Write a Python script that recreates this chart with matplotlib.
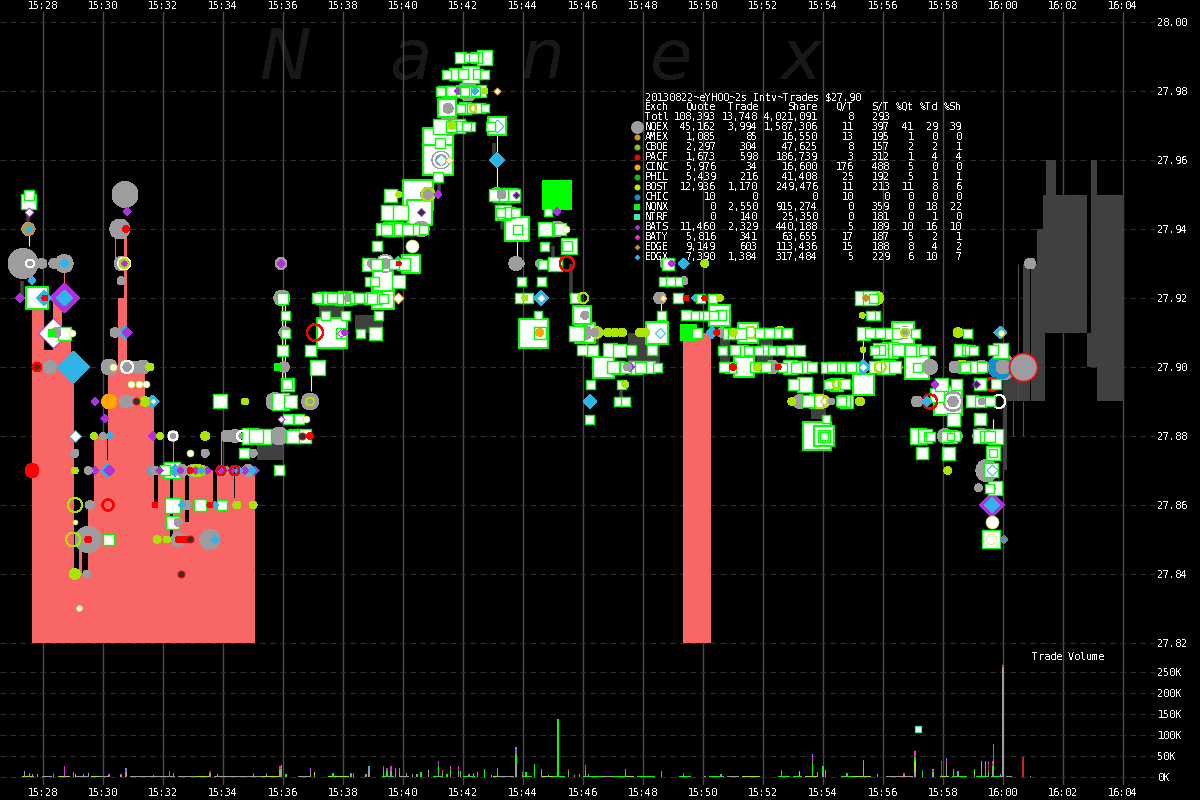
"""
Nanex style trade and quote chart for YHOO, 2013-08-22
"""
import matplotlib
matplotlib.use("Agg")
import matplotlib.pyplot as plt

plt.rcParams["font.family"] = "DejaVu Sans Mono"
plt.rcParams["font.size"] = 7.2
plt.rcParams["text.antialiased"] = False
plt.rcParams["text.hinting"] = "force_autohint"
plt.rcParams["text.hinting_factor"] = 1

#table
title_line = "20130822~eYHOO~2s Intv~Trades $27.90"
exch_names = ["Totl", "NQEX", "AMEX", "CBOE", "PACF", "CINC", "PHIL", "BOST",
              "CHIC", "NQNX", "NTRF", "BATS", "BATY", "EDGE", "EDGX"]
quote_counts = [108393, 45162, 1085, 2297, 1673, 5976, 5439, 12936, 10, 0, 0, 11460, 5816, 9149, 7390]
trade_counts = [13748, 3994, 85, 304, 598, 34, 216, 1170, 0, 2550, 140, 2329, 341, 603, 1384]
share_counts = [4021091, 1587306, 16550, 47625, 186739, 16600, 41408, 249476, 0, 915274, 25350, 440188, 63655, 113436, 317484]
q_per_t = [8, 11, 13, 8, 3, 176, 25, 11, 10, 0, 0, 5, 17, 15, 5]
s_per_t = [293, 397, 195, 157, 312, 488, 192, 213, 0, 359, 181, 189, 187, 188, 229]
pct_quote = ["", 41, 1, 2, 1, 5, 5, 11, 0, 0, 0, 10, 5, 8, 6]
pct_trade = ["", 29, 0, 2, 4, 0, 1, 8, 0, 18, 1, 16, 2, 4, 10]
pct_share = ["", 39, 0, 1, 4, 0, 1, 6, 0, 22, 0, 10, 1, 2, 7]

#axis ticks, times are minutes after 15:00
time_ticks = list(range(28, 66, 2))
time_labels = ["15:28", "15:30", "15:32", "15:34", "15:36", "15:38", "15:40", "15:42", "15:44", "15:46",
               "15:48", "15:50", "15:52", "15:54", "15:56", "15:58", "16:00", "16:02", "16:04"]
price_ticks = [27.82, 27.84, 27.86, 27.88, 27.90, 27.92, 27.94, 27.96, 27.98, 28.00]
volume_ticks = [0, 50, 100, 150, 200, 250]
volume_labels = ["0K", "50K", "100K", "150K", "200K", "250K"]

#pink columns
pink_left = [27.65, 28.05, 28.35, 28.65, 28.95, 29.05, 29.12, 29.20, 29.33, 29.52, 29.72, 30.15, 30.18, 30.52, 30.72, 30.82, 31.42,
             31.72, 31.85, 32.25, 32.35, 32.75, 32.88, 33.68, 33.82, 34.00, 34.03, 34.38, 34.42, 49.35]
pink_right = [28.05, 28.35, 28.65, 28.95, 29.05, 29.12, 29.20, 29.33, 29.52, 29.72, 30.15, 30.18, 30.52, 30.72, 30.82, 31.42, 31.72,
              31.85, 32.25, 32.35, 32.75, 32.88, 33.68, 33.82, 34.00, 34.03, 34.38, 34.42, 35.08, 50.28]
pink_top = [27.92, 27.905, 27.92, 27.91, 27.90, 27.84, 27.84, 27.85, 27.84, 27.86, 27.88, 27.873, 27.90, 27.92, 27.94, 27.90, 27.89,
            27.86, 27.87, 27.85, 27.87, 27.855, 27.87, 27.86, 27.87, 27.862, 27.87, 27.862, 27.87, 27.91]

#dark quote blocks
block_left = [60.00, 60.69, 60.95, 61.14, 61.34, 61.42, 61.45, 62.81, 62.95, 63.15, 60.00, 35.15, 37.20, 38.42, 47.52, 51.82, 50.58, 53.60]
block_right = [60.69, 60.91, 61.14, 61.42, 61.42, 62.81, 61.78, 63.15, 63.15, 64.05, 60.15, 36.00, 38.00, 39.35, 48.58, 52.35, 50.92, 54.10]
block_low = [27.89, 27.89, 27.89, 27.89, 27.94, 27.91, 27.95, 27.90, 27.91, 27.89, 27.87, 27.873, 27.905, 27.91, 27.90, 27.90, 27.90, 27.885]
block_high = [27.90, 27.93, 27.93, 27.94, 27.95, 27.95, 27.96, 27.91, 27.96, 27.95, 27.89, 27.88, 27.92, 27.915, 27.91, 27.91, 27.91, 27.89]

#spread sticks
stick_time = [27.32, 27.52, 45.62, 45.02, 43.05, 43.30, 41.20, 46.48, 47.28]
stick_low = [27.92, 27.94, 27.92, 27.93, 27.96, 27.94, 27.95, 27.90, 27.89]
stick_high = [27.925, 27.945, 27.93, 27.935, 27.965, 27.945, 27.955, 27.91, 27.895]
yellow_time = [27.55, 35.98, 36.08, 36.95, 43.15, 43.15, 43.82, 48.62, 55.35, 59.68]
yellow_low = [27.935, 27.895, 27.895, 27.893, 27.96, 27.95, 27.93, 27.915, 27.90, 27.88]
yellow_high = [27.94, 27.92, 27.92, 27.898, 27.97, 27.96, 27.94, 27.92, 27.91, 27.885]
thin_time = [60.50, 60.36, 60.69]
thin_low = [27.89, 27.88, 27.88]
thin_high = [27.93, 27.89, 27.89]
salmon_time = [30.40, 28.72, 32.35, 33.95]
salmon_low = [27.93, 27.92, 27.87, 27.87]
salmon_high = [27.94, 27.93, 27.88, 27.88]

#NQNX trades, white squares
sq_time = [27.52, 27.55, 27.82, 28.72, 30.18, 33.92, 32.32, 32.08, 32.32, 32.32, 33.25, 33.98, 34.92, 35.12, 35.35, 34.72, 35.88,
           35.98, 36.08, 36.08, 35.98, 36.15, 36.15, 35.92, 36.25, 36.18, 36.32, 36.55, 36.45, 36.72, 36.92, 37.15, 37.65, 37.95,
           37.15, 37.42, 37.65, 38.08, 38.65, 38.08, 38.58, 38.88, 39.35, 39.35, 39.08, 39.18, 38.88, 39.35, 38.85, 40.28, 39.85,
           39.58, 39.75, 40.02, 40.38, 40.55, 40.68, 39.52, 39.92, 39.58, 40.52, 41.18, 41.18, 41.18, 41.25, 41.25, 41.85, 42.25,
           41.25, 41.48, 42.08, 42.32, 42.58, 41.48, 41.75, 42.58, 41.75, 42.25, 42.52, 42.72, 41.92, 42.18, 42.35, 42.45, 42.72,
           43.15, 42.92, 43.08, 43.42, 43.58, 43.38, 43.25, 43.75, 43.82, 43.82, 43.95, 44.62, 44.65, 43.92, 44.18, 44.35, 44.58, 44.52,
           44.75, 45.25, 44.85, 44.72, 45.48, 45.08, 45.55, 45.98, 45.75, 45.78, 46.08, 48.48, 45.98, 46.68, 47.15, 47.42, 47.75, 48.48,
           46.25, 46.22, 47.28, 47.18, 47.42, 48.85, 49.15, 48.68, 48.92, 49.18, 49.92, 50.32, 50.55, 50.62, 48.62, 49.45, 49.75, 50.02, 50.15, 49.82, 50.35,
           50.85, 51.52, 52.02, 52.45, 52.82, 50.65, 51.08, 51.52, 51.85, 52.32, 52.58, 52.95, 50.72, 51.38, 52.65, 52.92, 53.38, 53.65, 53.02, 53.38,
           53.52, 53.78, 54.12, 53.82, 54.05, 54.05, 54.05,
           55.32, 55.58, 55.68, 55.75, 55.58, 55.35, 55.92, 55.58, 55.92, 55.92, 56.68, 57.08, 57.08, 57.58, 56.25, 56.18, 56.02, 55.75, 57.15, 57.15,
           55.35, 54.72, 54.12, 54.42, 54.75, 55.02, 54.18, 54.45, 54.75, 54.78,
           58.58, 58.82, 58.82, 58.98, 58.75, 57.95, 58.45, 58.18, 57.80, 58.98, 59.25, 59.25, 59.58, 59.78, 59.92, 59.68,
           57.18, 57.52, 57.42, 57.58, 57.32, 58.25, 58.25, 58.35, 58.18, 59.25, 59.25, 59.75, 59.68, 59.68, 59.62]
sq_price = [27.948, 27.95, 27.92, 27.91, 27.85, 27.89, 27.87, 27.87, 27.86, 27.855, 27.86, 27.86, 27.88, 27.88, 27.88, 27.875, 27.87,
            27.92, 27.915, 27.91, 27.905, 27.895, 27.895, 27.89, 27.89, 27.885, 27.88, 27.885, 27.88, 27.88, 27.905, 27.90, 27.91, 27.91,
            27.92, 27.92, 27.92, 27.92, 27.92, 27.915, 27.91, 27.92, 27.92, 27.92, 27.91, 27.915, 27.925, 27.925, 27.93, 27.93, 27.925,
            27.94, 27.94, 27.94, 27.94, 27.945, 27.94, 27.945, 27.945, 27.95, 27.95, 27.955, 27.965, 27.96, 27.965, 27.97, 27.97, 27.97,
            27.98, 27.975, 27.975, 27.975, 27.975, 27.98, 27.98, 27.98, 27.985, 27.985, 27.985, 27.985, 27.99, 27.99, 27.99, 27.99, 27.99,
            27.97, 27.97, 27.95, 27.95, 27.95, 27.945, 27.945, 27.945, 27.94, 27.94, 27.925, 27.925, 27.93, 27.92, 27.92, 27.91, 27.91, 27.915,
            27.94, 27.94, 27.945, 27.935, 27.935, 27.93, 27.935, 27.915, 27.92, 27.91, 27.91, 27.91, 27.905, 27.90, 27.90, 27.90, 27.90, 27.90,
            27.895, 27.885, 27.895, 27.89, 27.89, 27.93, 27.925, 27.925, 27.925, 27.92, 27.92, 27.92, 27.915, 27.915, 27.915, 27.915, 27.915, 27.915, 27.915, 27.91, 27.915,
            27.91, 27.91, 27.91, 27.91, 27.91, 27.905, 27.905, 27.905, 27.905, 27.905, 27.905, 27.905, 27.90, 27.90, 27.90, 27.90, 27.90, 27.90, 27.895, 27.895,
            27.89, 27.89, 27.885, 27.88, 27.88, 27.88, 27.88,
            27.92, 27.92, 27.92, 27.915, 27.915, 27.91, 27.91, 27.91, 27.905, 27.905, 27.91, 27.91, 27.905, 27.905, 27.905, 27.90, 27.90, 27.90, 27.90, 27.90,
            27.895, 27.89, 27.90, 27.90, 27.90, 27.90, 27.895, 27.895, 27.895, 27.89,
            27.905, 27.905, 27.91, 27.90, 27.90, 27.895, 27.895, 27.89, 27.892, 27.89, 27.89, 27.895, 27.89, 27.895, 27.905, 27.905,
            27.88, 27.88, 27.88, 27.88, 27.875, 27.88, 27.88, 27.885, 27.875, 27.885, 27.88, 27.88, 27.875, 27.875, 27.85]
sq_size = [13, 8, 22, 11, 9, 12, 14, 8, 13, 11, 10, 8, 14, 12, 13, 8, 8,
           9, 7, 7, 9, 11, 8, 15, 11, 8, 11, 8, 12, 12, 9, 13, 30, 8,
           8, 10, 8, 12, 8, 7, 7, 9, 22, 7, 11, 7, 7, 20, 11, 18, 11,
           12, 12, 10, 9, 25, 7, 13, 13, 11, 30, 8, 30, 30, 8, 13, 12, 7,
           7, 18, 10, 8, 8, 9, 9, 10, 10, 15, 8, 7, 9, 7, 7, 9, 13,
           18, 7, 10, 10, 12, 12, 7, 7, 24, 7, 7, 7, 7, 8, 8, 29, 10, 6,
           12, 10, 6, 7, 8, 12, 14, 18, 8, 13, 20, 22, 8, 21, 11, 9, 11, 7,
           7, 7, 7, 7, 7, 10, 7, 7, 7, 8, 7, 7, 21, 8, 7, 8, 7, 7, 7, 8, 7,
           9, 20, 8, 8, 8, 7, 8, 7, 7, 7, 7, 9, 8, 20, 7, 12, 10, 8, 9, 13,
           10, 12, 6, 28, 20, 10, 6,
           12, 12, 7, 7, 7, 11, 8, 8, 8, 13, 23, 7, 10, 7, 14, 12, 11, 10, 24, 7,
           21, 10, 9, 8, 9, 9, 7, 11, 8, 11,
           10, 8, 7, 10, 8, 11, 9, 28, 12, 10, 9, 10, 8, 8, 13, 8,
           14, 7, 12, 7, 10, 11, 5, 11, 11, 10, 12, 13, 12, 6, 16]

#more NQNX trades in the dense clusters
more_sq_time = [41.35, 41.62, 41.95, 42.05, 42.30, 42.42, 41.90, 42.75, 41.60, 41.95, 42.10, 41.45, 42.00,
                37.30, 37.55, 37.80, 37.95, 38.25, 38.40, 38.55, 38.95, 39.10, 37.40,
                39.15, 39.30, 39.45, 39.90, 40.15, 39.05, 39.70, 40.05, 39.10,
                43.25, 43.70, 43.30, 43.55, 43.65,
                46.30, 46.90, 47.00, 47.90, 48.20, 47.20, 47.60, 48.30,
                51.00, 51.25, 51.90, 52.20, 50.90, 51.75, 52.10, 53.10, 53.20, 52.10, 51.30,
                54.30, 54.55, 54.95, 54.30, 54.60,
                56.40, 56.10, 56.50, 56.90, 56.40, 57.35, 55.70,
                58.70, 58.90, 59.30, 59.00, 59.40, 59.55, 59.60, 59.75, 59.55, 58.10, 58.40]
more_sq_price = [27.98, 27.98, 27.98, 27.98, 27.98, 27.98, 27.975, 27.975, 27.97, 27.97, 27.97, 27.985, 27.985,
                 27.92, 27.92, 27.92, 27.92, 27.92, 27.92, 27.92, 27.92, 27.92, 27.915,
                 27.935, 27.94, 27.94, 27.94, 27.94, 27.925, 27.93, 27.93, 27.93,
                 27.95, 27.95, 27.945, 27.945, 27.95,
                 27.905, 27.905, 27.90, 27.90, 27.90, 27.905, 27.905, 27.905,
                 27.91, 27.91, 27.91, 27.91, 27.90, 27.90, 27.90, 27.90, 27.905, 27.905, 27.905,
                 27.90, 27.90, 27.90, 27.895, 27.89,
                 27.91, 27.91, 27.905, 27.905, 27.90, 27.905, 27.905,
                 27.90, 27.905, 27.90, 27.905, 27.88, 27.88, 27.87, 27.865, 27.865, 27.88, 27.88]
more_sq_size = [8, 8, 9, 7, 9, 7, 7, 6, 9, 8, 7, 7, 8,
                10, 10, 9, 11, 9, 8, 8, 9, 10, 7,
                8, 10, 9, 10, 9, 7, 8, 10, 9,
                12, 10, 13, 9, 11,
                9, 12, 10, 9, 10, 11, 8, 8,
                9, 9, 8, 8, 9, 8, 8, 9, 9, 8, 9,
                8, 9, 8, 9, 8,
                9, 9, 10, 9, 10, 7, 7,
                9, 8, 8, 7, 9, 9, 12, 12, 7, 9, 8]

#solid NQNX squares
solid_time = [45.15, 49.52, 35.85, 28.32]
solid_price = [27.95, 27.91, 27.90, 27.91]
solid_size = [30, 17, 8, 8]

#NQEX quotes, gray circles
gray_time = [27.52, 27.35, 27.98, 28.38, 28.72, 28.45, 28.25, 30.22, 30.82, 31.35, 30.75, 31.08, 30.75, 30.95, 30.75, 30.58, 30.62, 30.62, 30.42,
             30.02, 32.35, 34.15, 34.42, 35.88, 29.08, 29.52, 31.98, 33.42, 35.02, 29.58, 32.78, 32.52, 29.52, 32.52, 33.58, 29.48,
             35.95, 35.98, 36.08, 36.05, 35.75, 36.92, 39.42, 39.68, 40.62, 40.85, 41.28, 41.55, 42.18, 41.52, 43.15, 43.78, 43.92, 44.58,
             45.15, 46.08, 46.08, 48.75, 49.38, 48.58, 50.65, 52.32, 53.25, 56.75, 57.58, 58.42, 57.15, 58.35, 58.08, 59.28, 59.48, 60.00, 60.92, 60.02,
             38.20, 38.90, 39.00, 41.90, 42.00, 42.45, 46.40, 47.50, 54.30, 43.30, 58.50, 56.50, 59.20, 59.30, 59.30, 58.85,
             31.75, 32.05, 32.65, 33.00, 33.15, 33.35, 34.85, 34.10]
gray_price = [27.94, 27.93, 27.93, 27.93, 27.93, 27.91, 27.90, 27.90, 27.90, 27.90, 27.90, 27.90, 27.89, 27.89, 27.95, 27.94, 27.93, 27.925, 27.91,
              27.88, 27.88, 27.88, 27.88, 27.88, 27.875, 27.87, 27.87, 27.875, 27.875, 27.86, 27.86, 27.855, 27.85, 27.85, 27.85, 27.84,
              27.93, 27.92, 27.91, 27.90, 27.89, 27.89, 27.93, 27.94, 27.94, 27.95, 27.96, 27.97, 27.98, 27.975, 27.95, 27.93, 27.93, 27.93,
              27.94, 27.915, 27.91, 27.93, 27.925, 27.92, 27.91, 27.90, 27.89, 27.91, 27.90, 27.90, 27.89, 27.89, 27.88, 27.88, 27.87, 27.90, 27.93, 27.90,
              27.92, 27.92, 27.93, 27.98, 27.98, 27.98, 27.91, 27.90, 27.89, 27.95, 27.88, 27.905, 27.865, 27.89, 27.90, 27.90,
              27.87, 27.87, 27.87, 27.87, 27.87, 27.87, 27.87, 27.87]
gray_size = [13, 30, 10, 10, 18, 10, 13, 16, 14, 14, 12, 12, 12, 10, 26, 20, 14, 8, 10,
             7, 11, 12, 13, 18, 8, 8, 8, 8, 8, 9, 10, 8, 26, 14, 20, 8,
             12, 16, 12, 11, 18, 17, 18, 14, 16, 15, 18, 20, 20, 10, 14, 14, 8, 9,
             16, 8, 14, 10, 8, 12, 10, 14, 14, 12, 15, 12, 11, 20, 15, 16, 22, 26, 11, 14,
             8, 12, 10, 12, 8, 10, 8, 8, 7, 9, 10, 10, 8, 7, 14, 12,
             9, 8, 12, 12, 12, 10, 12, 8]

#hollow rings
lime_ring_time = [29.08, 29.02, 30.72, 40.85, 42.35, 46.02, 51.58, 52.58, 53.92, 55.92, 54.48, 56.75, 36.92, 33.10, 33.20]
lime_ring_price = [27.86, 27.85, 27.93, 27.95, 27.975, 27.92, 27.91, 27.91, 27.89, 27.90, 27.895, 27.91, 27.89, 27.87, 27.87]
lime_ring_size = [14, 14, 9, 13, 7, 10, 12, 11, 14, 11, 8, 8, 8, 11, 11]
white_ring_time = [30.82, 30.72, 39.42, 32.35, 59.88, 58.35, 41.28, 27.58, 34.65, 56.75]
white_ring_price = [27.90, 27.93, 27.93, 27.88, 27.89, 27.89, 27.96, 27.93, 27.88, 27.91]
white_ring_size = [12, 12, 14, 9, 13, 14, 14, 8, 10, 10]
red_ring_time = [30.18, 37.08, 45.48, 57.58, 59.65, 27.82, 33.95, 34.40]
red_ring_price = [27.86, 27.91, 27.93, 27.89, 27.895, 27.90, 27.87, 27.87]
red_ring_size = [11, 16, 14, 14, 13, 8, 9, 9]

#filled circles of the smaller exchanges
lime_time = [31.58, 31.42, 34.75, 29.72, 31.92, 33.42, 29.08, 34.48, 35.02, 31.82, 29.08, 39.88, 40.72, 41.65, 42.75, 44.08,
             46.48, 46.85, 47.08, 47.32, 48.08, 47.42, 55.82, 55.32, 55.35, 55.25, 58.65, 58.52, 58.18, 51.82, 51.02, 50.08, 50.58, 52.98, 47.92, 32.15]
lime_price = [27.90, 27.89, 27.89, 27.88, 27.88, 27.88, 27.87, 27.86, 27.86, 27.85, 27.84, 27.95, 27.94, 27.97, 27.98, 27.92,
              27.91, 27.91, 27.91, 27.91, 27.91, 27.895, 27.92, 27.915, 27.905, 27.89, 27.90, 27.91, 27.87, 27.90, 27.91, 27.93, 27.92, 27.89, 27.91, 27.85]
lime_size = [8, 10, 7, 7, 7, 9, 7, 8, 8, 8, 11, 6, 8, 8, 6, 6,
             12, 9, 9, 9, 9, 7, 13, 6, 6, 9, 14, 10, 8, 8, 8, 8, 7, 8, 9, 7]
orange_time = [30.22, 44.58]
orange_price = [27.89, 27.91]
orange_size = [15, 8]
red_time = [27.65, 28.08, 30.78, 29.52, 31.75, 33.58, 32.92, 36.92, 39.88, 50.08, 49.45, 51.02, 50.48, 52.52, 32.55, 32.75]
red_price = [27.87, 27.92, 27.94, 27.85, 27.86, 27.86, 27.87, 27.88, 27.93, 27.92, 27.92, 27.90, 27.91, 27.90, 27.85, 27.85]
red_size = [14, 6, 7, 7, 6, 6, 6, 7, 5, 6, 6, 7, 6, 6, 7, 7]
dark_time = [27.82, 31.12, 32.62, 32.92, 36.65]
dark_price = [27.90, 27.89, 27.84, 27.85, 27.88]
dark_size = [7, 7, 7, 7, 7]
white_time = [28.98, 30.35, 30.95, 31.22, 31.45, 29.22, 29.08, 32.92, 36.78, 40.32, 45.45, 59.65, 59.62, 59.95]
white_price = [27.91, 27.90, 27.895, 27.895, 27.895, 27.83, 27.855, 27.875, 27.885, 27.935, 27.94, 27.855, 27.85, 27.91]
white_size = [7, 7, 7, 7, 7, 6, 5, 7, 7, 13, 7, 13, 10, 6]

#diamonds
purple_time = [27.25, 28.72, 29.75, 30.08, 30.82, 30.78, 30.82, 29.75, 30.22, 31.68, 35.08, 35.95, 38.08, 41.18, 45.15, 57.75, 59.65, 41.85, 48.98, 47.58,
               31.90, 32.60, 33.10, 33.50, 34.00, 34.30, 34.75]
purple_price = [27.92, 27.92, 27.89, 27.885, 27.945, 27.93, 27.91, 27.87, 27.87, 27.88, 27.87, 27.93, 27.91, 27.95, 27.945, 27.895, 27.86, 27.98, 27.93, 27.90,
                27.87, 27.87, 27.87, 27.87, 27.87, 27.87, 27.87]
purple_size = [9, 30, 8, 8, 8, 8, 10, 9, 11, 9, 9, 8, 7, 8, 8, 8, 26, 8, 7, 9,
               8, 7, 8, 8, 8, 8, 9]
blue_time = [28.05, 28.72, 27.65, 28.72, 29.02, 30.22, 30.75, 31.68, 30.18, 31.68, 32.42, 39.85, 43.15, 44.62, 46.25, 49.38, 55.35, 59.92, 59.65,
             50.32, 49.75, 33.75, 33.75, 57.48, 32.65, 42.42, 27.55, 33.30, 34.55, 35.00]
blue_price = [27.92, 27.92, 27.925, 27.93, 27.90, 27.88, 27.91, 27.89, 27.87, 27.87, 27.87, 27.93, 27.96, 27.92, 27.89, 27.93, 27.90, 27.91, 27.86,
              27.91, 27.92, 27.86, 27.85, 27.89, 27.86, 27.98, 27.94, 27.87, 27.87, 27.87]
blue_size = [16, 16, 8, 9, 32, 8, 14, 13, 13, 11, 12, 15, 15, 15, 14, 11, 15, 13, 16,
             12, 8, 8, 8, 10, 8, 7, 8, 8, 8, 8]
white_purple_time = [27.55, 27.55, 28.35, 38.08, 35.95, 37.95]
white_purple_price = [27.95, 27.945, 27.91, 27.915, 27.885, 27.91]
white_purple_size = [9, 9, 30, 8, 7, 8]
white_blue_time = [29.08, 43.15, 44.62, 55.35, 31.68, 48.58, 41.28, 59.65]
white_blue_price = [27.88, 27.97, 27.92, 27.90, 27.89, 27.91, 27.96, 27.87]
white_blue_size = [12, 13, 9, 9, 7, 10, 12, 11]
white_orange_time = [39.85, 41.55, 46.12, 54.12, 56.48, 43.15, 48.68]
white_orange_price = [27.92, 27.96, 27.905, 27.89, 27.90, 27.98, 27.92]
white_orange_size = [11, 8, 12, 12, 11, 7, 7]
dark_dia_time = [40.62, 43.78, 54.12, 59.12, 59.62]
dark_dia_price = [27.945, 27.95, 27.885, 27.895, 27.865]
dark_dia_size = [8, 7, 8, 8, 8]
brown_dia_time = [27.55, 55.45]
brown_dia_price = [27.94, 27.92]
brown_dia_size = [13, 7]
slate_dia_time = [60.05]
slate_dia_price = [27.85]
slate_dia_size = [8]

#stacked trade volume, in thousands of shares
vol_time = [27.40, 27.57, 27.67, 27.83, 28.01, 28.37, 28.73, 29.03, 29.10, 29.36,
            29.53, 30.21, 30.61, 30.79, 31.70, 32.23, 32.36, 33.59, 33.83, 35.04,
            35.46, 35.91, 35.96, 36.11, 36.93, 37.07, 37.69, 38.29, 38.37, 38.79,
            38.89, 39.36, 39.48, 39.62, 39.76, 39.90, 40.13, 40.33, 40.49, 40.61,
            40.87, 41.20, 41.33, 41.48, 41.60, 41.87, 41.93, 42.21, 42.36, 42.50,
            42.73, 42.97, 43.17, 43.79, 44.00, 44.12, 44.40, 44.63, 44.86, 45.16,
            45.19, 45.53, 45.74, 45.90, 46.10, 46.20, 47.43, 48.63, 49.36, 50.09,
            50.61, 52.63, 53.23, 53.66, 53.83, 54.02, 54.10, 54.82, 55.36, 55.83,
            56.71, 57.09, 57.34, 57.68, 57.97, 58.13, 58.37, 58.51, 59.06, 59.30,
            59.43, 59.53, 59.66, 59.70, 59.93, 60.02, 60.69, 60.93]
vol_gray = [15, 6, 7, 5, 3, 5, 5, 6, 2, 6,
            6, 4, 4, 12, 3, 0, 0, 10, 6, 4,
            6, 12, 14, 5, 13, 4, 0, 6, 5, 7,
            17, 15, 5, 14, 5, 14, 10, 7, 7, 0,
            12, 10, 10, 0, 8, 10, 8, 5, 6, 0,
            0, 5, 17, 32, 4, 0, 0, 12, 5, 14,
            0, 8, 5, 7, 10, 7, 0, 5, 4, 3,
            3, 6, 2, 5, 0, 10, 4, 5, 31, 4,
            4, 13, 3, 6, 0, 34, 0, 6, 4, 37,
            5, 10, 20, 27, 5, 263, 0, 2]
vol_lime = [0, 0, 0, 0, 0, 0, 0, 0, 6, 0,
            4, 0, 0, 0, 0, 0, 0, 0, 0, 0,
            0, 0, 0, 0, 0, 8, 0, 0, 0, 0,
            0, 0, 0, 0, 0, 0, 0, 0, 0, 0,
            5, 0, 0, 0, 0, 0, 0, 0, 0, 0,
            0, 0, 0, 0, 0, 0, 0, 0, 0, 0,
            0, 0, 0, 0, 0, 0, 0, 0, 0, 0,
            0, 0, 9, 0, 0, 0, 0, 0, 0, 3,
            0, 25, 0, 0, 0, 0, 0, 0, 8, 0,
            0, 0, 0, 0, 0, 0, 0, 0]
vol_green = [0, 0, 0, 0, 0, 0, 0, 0, 0, 0,
             0, 0, 0, 0, 0, 0, 10, 0, 0, 3,
             2, 8, 5, 2, 0, 0, 10, 2, 0, 0,
             0, 3, 12, 0, 11, 0, 0, 0, 0, 12,
             0, 16, 0, 6, 10, 5, 7, 0, 0, 13,
             19, 0, 0, 22, 0, 12, 32, 0, 0, 0,
             138, 6, 0, 0, 5, 0, 18, 0, 0, 0,
             0, 6, 3, 30, 13, 12, 5, 0, 0, 0,
             0, 10, 8, 6, 5, 0, 20, 0, 8, 0,
             32, 5, 5, 16, 0, 0, 0, 0]
vol_red = [0, 0, 0, 0, 0, 1, 0, 0, 0, 0,
           0, 1, 0, 0, 0, 0, 0, 5, 0, 0,
           0, 1, 0, 0, 0, 0, 0, 0, 0, 0,
           0, 1, 1, 0, 0, 0, 0, 0, 0, 0,
           0, 2, 3, 2, 3, 0, 0, 0, 0, 0,
           0, 0, 0, 0, 2, 0, 0, 0, 0, 0,
           0, 2, 0, 0, 0, 0, 0, 0, 0, 0,
           0, 0, 0, 0, 0, 0, 0, 0, 0, 0,
           0, 3, 3, 0, 30, 0, 0, 0, 0, 0,
           0, 14, 5, 4, 0, 2, 48, 0]
vol_purple = [0, 4, 0, 0, 0, 4, 20, 0, 0, 0,
              0, 2, 2, 5, 0, 15, 0, 0, 0, 3,
              2, 4, 4, 0, 9, 0, 0, 2, 5, 0,
              0, 6, 3, 11, 5, 2, 0, 0, 0, 0,
              0, 11, 3, 0, 4, 10, 0, 2, 4, 0,
              0, 0, 0, 12, 3, 0, 0, 0, 0, 0,
              0, 2, 0, 0, 10, 0, 0, 0, 6, 0,
              0, 5, 0, 14, 0, 0, 0, 0, 0, 0,
              6, 8, 0, 4, 4, 7, 0, 0, 0, 0,
              0, 10, 9, 22, 0, 0, 0, 0]
vol_blue = [0, 0, 0, 3, 0, 0, 0, 7, 0, 0,
            0, 0, 2, 5, 2, 0, 0, 0, 0, 0,
            0, 0, 6, 0, 0, 0, 0, 0, 0, 0,
            8, 0, 0, 0, 0, 6, 0, 0, 0, 0,
            0, 0, 0, 0, 0, 0, 0, 0, 0, 0,
            0, 0, 4, 6, 4, 0, 0, 8, 0, 8,
            0, 2, 0, 0, 4, 0, 2, 10, 0, 0,
            4, 0, 1, 6, 0, 3, 8, 5, 10, 0,
            0, 4, 3, 4, 0, 5, 0, 9, 0, 0,
            0, 0, 0, 10, 3, 2, 0, 0]
floor_gray_left = [28.00, 29.10, 29.90, 30.90, 32.50, 33.70, 36.50, 39.90, 43.20, 46.60, 50.80, 56.10, 60.10]
floor_gray_right = [28.30, 29.50, 30.20, 32.40, 33.60, 35.40, 36.90, 40.20, 43.70, 47.10, 51.20, 57.00, 60.30]
floor_lime_left = [27.30, 28.50, 29.60, 33.10, 35.30, 37.50, 43.00, 44.60, 47.40, 51.30, 53.40, 55.00, 57.90]
floor_lime_right = [27.70, 28.90, 29.90, 33.60, 35.90, 38.20, 43.20, 45.00, 47.70, 51.90, 53.80, 55.60, 58.20]
floor_green_left = [39.30, 41.00, 42.00, 44.00, 45.00, 46.00, 47.00, 47.80, 49.20, 50.20, 52.50, 53.00, 54.60, 58.30, 59.10, 59.60]
floor_green_right = [39.70, 41.30, 42.40, 44.30, 45.40, 46.60, 47.40, 48.40, 49.60, 50.70, 52.90, 53.30, 55.00, 58.80, 59.50, 60.00]
ntrf_time = [57.17]
ntrf_volume = [115]

#watermark letters
mark_letters = ["N", "a", "n", "e", "x"]
mark_time = [35.25, 39.60, 43.95, 48.25, 52.60]

#colours
BG = "black"
GRID_V = "#4c4c4c"
GRID_H = "#2e2e2e"
BLOCK = "#404040"
PINK = "#f96666"
GRAY = "#9e9c9f"
LIME = "#a8e600"
GREEN = "#00ff00"
RED = "#ff0000"
ORANGE = "#ffa500"
PURPLE = "#b030e0"
BLUE = "#30b4e8"
BROWN = "#c89020"
legend_colors = ["", GRAY, "#d89020", "#90c010", RED, ORANGE, "#10c010", "#b4f000", "#1090d0",
                 GREEN, "#30f0b0", PURPLE, "#f030c0", BROWN, BLUE]
legend_shapes = ["", "o", "o", "o", "o", "o", "o", "o", "o", "s", "s", "D", "D", "D", "D"]
legend_sizes = [0, 13, 6, 6, 6, 6, 6, 6, 6, 6, 6, 6, 6, 6, 6]


def draw_marks(ax, times, prices, sizes, marker, face, edge="none", lw=0.0, raised=0.0):
    """
    one scatter per mark so that large marks end up below small ones
    """
    for time, price, size in zip(times, prices, sizes, strict=True):
        drawn = size
        width = lw
        if marker == "s" and edge == GREEN:
            if size >= 18:
                width = 1.5 * lw
            else:
                drawn = size + 2
        points = drawn * 0.72
        if marker == "D":
            points = points / 1.414
        ax.scatter([time], [price], s=points ** 2, marker=marker, facecolors=face, edgecolors=edge,
                   linewidths=width * 0.72, antialiased=False, zorder=50 - size * 0.5 + raised, clip_on=False)


fig = plt.figure(figsize=(12, 8), dpi=100, facecolor=BG)
price_ax = fig.add_axes([0, 150 / 800, 1155 / 1200, 638 / 800], facecolor=BG)
volume_ax = fig.add_axes([0, 15 / 800, 1155 / 1200, 135 / 800], facecolor=BG)

for ax in (price_ax, volume_ax):
    ax.set_xlim(26.5833, 65.0833)
    ax.set_xticks(time_ticks)
    for spine in ax.spines.values():
        spine.set_visible(False)
    ax.grid(True, axis="x", color=GRID_V, linewidth=1.0, linestyle="-", zorder=0)
    ax.grid(True, axis="y", color=GRID_H, linewidth=0.8, linestyle=(0, (5, 4)), zorder=0)
    ax.set_axisbelow(True)
    ax.yaxis.tick_right()
    ax.tick_params(axis="both", length=0, colors="white", labelsize=7.2, pad=2)

price_ax.set_ylim(27.81797, 28.0029)
price_ax.set_yticks(price_ticks)
price_ax.set_yticklabels([f"{tick:.2f}" for tick in price_ticks])
price_ax.xaxis.tick_top()
price_ax.set_xticklabels(time_labels)
price_ax.tick_params(axis="x", pad=1)

volume_ax.set_ylim(-19.05, 302.38)
volume_ax.set_yticks(volume_ticks)
volume_ax.set_yticklabels(volume_labels)
volume_ax.set_xticklabels(time_labels)
volume_ax.tick_params(axis="x", pad=2)

#watermark
for letter, time in zip(mark_letters, mark_time):
    price_ax.text(time, 27.9836, letter, color="#181818", fontsize=50, style="italic",
                  family="DejaVu Sans", ha="left", va="baseline", zorder=0.5)

#pink and dark blocks
price_ax.bar(pink_left, [top - 27.82 for top in pink_top], bottom=27.82,
             width=[r - l for l, r in zip(pink_left, pink_right, strict=True)],
             align="edge", color=PINK, linewidth=0, antialiased=False, zorder=2)
price_ax.bar(block_left, [h - l for l, h in zip(block_low, block_high, strict=True)], bottom=block_low,
             width=[r - l for l, r in zip(block_left, block_right, strict=True)],
             align="edge", color=BLOCK, linewidth=0, antialiased=False, zorder=3)

#sticks
price_ax.vlines(stick_time, stick_low, stick_high, color=BLOCK, linewidth=2.6, zorder=4)
price_ax.vlines(yellow_time, yellow_low, yellow_high, color="#ffff80", linewidth=0.8, zorder=4)
price_ax.vlines(thin_time, thin_low, thin_high, color="#505050", linewidth=0.8, zorder=4)
price_ax.vlines(salmon_time, salmon_low, salmon_high, color=PINK, linewidth=0.8, zorder=4)

#marks
draw_marks(price_ax, gray_time, gray_price, gray_size, "o", GRAY)
draw_marks(price_ax, sq_time, sq_price, sq_size, "s", "white", GREEN, 1.4)
draw_marks(price_ax, more_sq_time, more_sq_price, more_sq_size, "s", "white", GREEN, 1.4)
draw_marks(price_ax, solid_time, solid_price, solid_size, "s", GREEN)
draw_marks(price_ax, lime_time, lime_price, lime_size, "o", LIME)
draw_marks(price_ax, orange_time, orange_price, orange_size, "o", ORANGE)
draw_marks(price_ax, red_time, red_price, red_size, "o", RED)
draw_marks(price_ax, dark_time, dark_price, dark_size, "o", "#303030", RED, 1.0)
draw_marks(price_ax, white_time, white_price, white_size, "o", "white", "#c0f000", 0.6)
draw_marks(price_ax, purple_time, purple_price, purple_size, "D", PURPLE)
draw_marks(price_ax, blue_time, blue_price, blue_size, "D", BLUE)
draw_marks(price_ax, white_purple_time, white_purple_price, white_purple_size, "D", "white", PURPLE, 1.0)
draw_marks(price_ax, white_blue_time, white_blue_price, white_blue_size, "D", "white", BLUE, 1.0)
draw_marks(price_ax, white_orange_time, white_orange_price, white_orange_size, "D", "white", ORANGE, 1.0)
draw_marks(price_ax, dark_dia_time, dark_dia_price, dark_dia_size, "D", "#303040", PURPLE, 1.0)
draw_marks(price_ax, brown_dia_time, brown_dia_price, brown_dia_size, "D", BROWN)
draw_marks(price_ax, slate_dia_time, slate_dia_price, slate_dia_size, "D", "#6090a0")
draw_marks(price_ax, lime_ring_time, lime_ring_price, lime_ring_size, "o", "none", LIME, 1.0, raised=1)
draw_marks(price_ax, white_ring_time, white_ring_price, white_ring_size, "o", "none", "white", 1.0, raised=1)
draw_marks(price_ax, red_ring_time, red_ring_price, red_ring_size, "o", "none", RED, 1.4, raised=1)

#closing cross circles
draw_marks(price_ax, [59.92], [27.90], [24], "o", "#1090d0", raised=3)
draw_marks(price_ax, [60.02], [27.90], [14], "o", GRAY, raised=1)
draw_marks(price_ax, [60.69], [27.90], [28], "o", GRAY, RED, 1.6, raised=20)

#volume
for left, right, colour in ((floor_gray_left, floor_gray_right, GRAY),
                            (floor_lime_left, floor_lime_right, LIME),
                            (floor_green_left, floor_green_right, GREEN)):
    volume_ax.bar(left, [2] * len(left), width=[r - l for l, r in zip(left, right, strict=True)],
                  align="edge", color=colour, linewidth=0, antialiased=False, zorder=3)

running = [0] * len(vol_time)
for series, colour in ((vol_gray, GRAY), (vol_lime, LIME), (vol_green, GREEN),
                       (vol_red, "#d02020"), (vol_purple, "#e030e0"), (vol_blue, BLUE)):
    volume_ax.bar(vol_time, series, bottom=running, width=0.05, color=colour, linewidth=0,
                  antialiased=False, zorder=4)
    running = [a + b for a, b in zip(running, series, strict=True)]

draw_marks(volume_ax, ntrf_time, ntrf_volume, [6], "s", "white", "#30f0b0", 1.2)
volume_ax.text(60.98, 285.7, "Trade Volume", color="white", ha="left", va="center", fontsize=7.2)

#table, placed in figure fractions
def table_text(x, y, text, ha="right"):
    fig.text(x / 1200, 1 - y / 800, text, color="white", ha=ha, va="center", fontsize=7.2, zorder=20)


table_text(645, 97, title_line, ha="left")
for x, head in ((716, "Quote"), (758, "Trade"), (818, "Share"), (854, "Q/T"), (890, "S/T"),
                (914, "%Qt"), (938, "%Td"), (962, "%Sh")):
    table_text(x, 107, head)
table_text(645, 107, "Exch", ha="left")
for row, name in enumerate(exch_names):
    y = 117 + row * 10
    table_text(645, y, name, ha="left")
    table_text(716, y, f"{quote_counts[row]:,}")
    table_text(758, y, f"{trade_counts[row]:,}")
    table_text(818, y, f"{share_counts[row]:,}")
    table_text(854, y, str(q_per_t[row]))
    table_text(890, y, str(s_per_t[row]))
    table_text(914, y, str(pct_quote[row]))
    table_text(938, y, str(pct_trade[row]))
    table_text(962, y, str(pct_share[row]))
    if legend_sizes[row]:
        points = legend_sizes[row] * 0.72
        if legend_shapes[row] == "D":
            points = points / 1.414
        price_ax.scatter([637 / 1200], [1 - y / 800], s=points ** 2, marker=legend_shapes[row],
                         color=legend_colors[row], transform=fig.transFigure, clip_on=False,
                         linewidths=0, antialiased=False, zorder=70)

fig.savefig("out.png", dpi=100, facecolor=BG)
